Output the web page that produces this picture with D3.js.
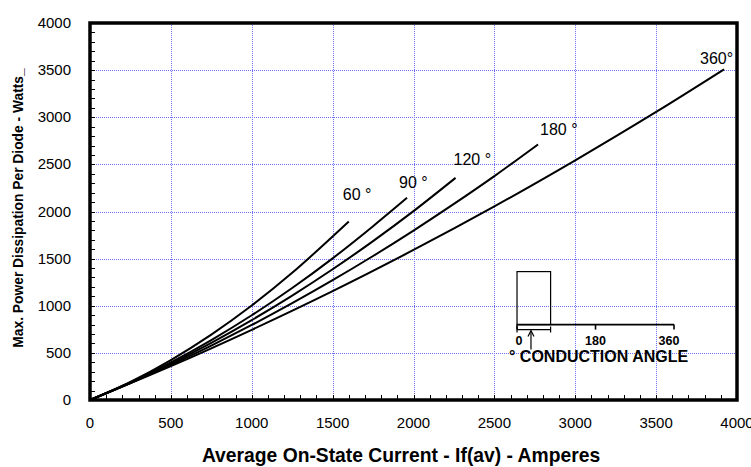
<!DOCTYPE html>
<html><head><meta charset="utf-8">
<script src="https://cdn.jsdelivr.net/npm/d3@7"></script>
<style>body{margin:0;background:#fff}svg{display:block}</style>
</head><body><svg id="c" width="751" height="467"></svg>
<script>
// ---------- data ----------
const xTickValues = [0, 500, 1000, 1500, 2000, 2500, 3000, 3500, 4000];
const yTickValues = [0, 500, 1000, 1500, 2000, 2500, 3000, 3500, 4000];
const curveNames = ["60 °", "90 °", "120 °", "180 °", "360°"];

const current60  = [0, 250, 500, 750, 1000, 1250, 1500, 1600];
const power60    = [0, 192, 424, 694, 1002, 1349, 1735, 1895];
const current90  = [0, 250, 500, 750, 1000, 1250, 1500, 1750, 1960];
const power90    = [0, 186, 398, 636, 899, 1188, 1503, 1844, 2145];
const current120 = [0, 250, 500, 750, 1000, 1250, 1500, 1750, 2000, 2260];
const power120   = [0, 183, 385, 607, 848, 1108, 1387, 1686, 2004, 2357];
const current180 = [0, 250, 500, 750, 1000, 1250, 1500, 1750, 2000, 2250, 2500, 2770];
const power180   = [0, 180, 372, 578, 796, 1027, 1271, 1528, 1798, 2081, 2376, 2712];
const current360 = [0, 500, 1000, 1500, 2000, 2500, 3000, 3500, 3920];
const power360   = [0, 359, 745, 1155, 1592, 2054, 2543, 3056, 3508];

const insetTickLabels = ["0", "180", "360"];
const insetTitle = "CONDUCTION ANGLE";
const xTitle = "Average On-State Current - If(av) - Amperes";
const yTitle = "Max. Power Dissipation Per Diode - Watts_";

// ---------- layout ----------
const svg = d3.select("#c");
const L = 90, T = 23, R = 737, B = 400;
const x = d3.scaleLinear().domain([0, 4000]).range([L, R]);
const y = d3.scaleLinear().domain([0, 4000]).range([B, T]);

const series = [
  {name: curveNames[0], I: current60,  P: power60,  dx: -6,  dy: -21},
  {name: curveNames[1], I: current90,  P: power90,  dx: -8,  dy: -10},
  {name: curveNames[2], I: current120, P: power120, dx: -2,  dy: -13},
  {name: curveNames[3], I: current180, P: power180, dx: 2,   dy: -9},
  {name: curveNames[4], I: current360, P: power360, dx: -24, dy: -5}
];

const font = "'Liberation Sans', Arial, Helvetica, sans-serif";

// grid
const grid = svg.append("g").attr("stroke", "#7070ff").attr("stroke-width", 1)
  .attr("stroke-dasharray", "1,1").attr("shape-rendering", "crispEdges");
grid.selectAll(".gx").data(xTickValues.slice(1, -1)).join("line")
  .attr("x1", d => Math.round(x(d)) + 0.5).attr("x2", d => Math.round(x(d)) + 0.5)
  .attr("y1", T).attr("y2", B);
grid.selectAll(".gy").data(yTickValues.slice(1, -1)).join("line")
  .attr("y1", d => Math.round(y(d)) + 0.5).attr("y2", d => Math.round(y(d)) + 0.5)
  .attr("x1", L).attr("x2", R);

// minor ticks (inside)
const minor = d3.range(0, 4001, 100);
const tk = svg.append("g").attr("stroke", "#000").attr("stroke-width", 1).attr("shape-rendering", "crispEdges");
tk.selectAll(".tx").data(minor).join("line")
  .attr("x1", d => Math.round(x(d)) + 0.5).attr("x2", d => Math.round(x(d)) + 0.5)
  .attr("y1", B).attr("y2", B - 5);
tk.selectAll(".ty").data(minor).join("line")
  .attr("y1", d => Math.round(y(d)) + 0.5).attr("y2", d => Math.round(y(d)) + 0.5)
  .attr("x1", L).attr("x2", L + 5);

// curves
const line = d3.line().x(d => x(d[0])).y(d => y(d[1])).curve(d3.curveMonotoneX);
svg.append("g").selectAll("path").data(series).join("path")
  .attr("d", s => line(s.I.map((v, i) => [v, s.P[i]])))
  .attr("fill", "none").attr("stroke", "#000").attr("stroke-width", 2);

// curve labels
svg.append("g").selectAll("text").data(series).join("text")
  .attr("x", s => x(s.I[s.I.length - 1]) + s.dx)
  .attr("y", s => y(s.P[s.P.length - 1]) + s.dy)
  .attr("font-family", font).attr("font-size", 16).attr("fill", "#000")
  .text(s => s.name);

// frame
svg.append("rect").attr("x", L).attr("y", T).attr("width", R - L).attr("height", B - T)
  .attr("fill", "none").attr("stroke", "#000").attr("stroke-width", 3.5);

// tick labels
svg.append("g").selectAll("text").data(xTickValues).join("text")
  .attr("x", d => x(d)).attr("y", 428).attr("text-anchor", "middle")
  .attr("font-family", font).attr("font-size", 15).text(d => d);
svg.append("g").selectAll("text").data(yTickValues).join("text")
  .attr("x", 71).attr("y", d => y(d) + 5).attr("text-anchor", "end")
  .attr("font-family", font).attr("font-size", 15).text(d => d);

// axis titles
svg.append("text").attr("x", 401).attr("y", 462).attr("text-anchor", "middle")
  .attr("font-family", font).attr("font-weight", "bold").attr("font-size", 19.3).text(xTitle);
svg.append("text").attr("transform", "translate(23,208) rotate(-90)").attr("text-anchor", "middle")
  .attr("font-family", font).attr("font-weight", "bold").attr("font-size", 13.8).text(yTitle);

// inset (conduction angle diagram), anchored via the scales
const ix = x(2640), iy = y(800);
const ang = d3.scaleLinear().domain([0, 360]).range([ix, ix + 157]);
const inset = svg.append("g").attr("stroke", "#000").attr("fill", "none").attr("stroke-width", 1.2);
inset.append("rect").attr("x", ang(0)).attr("y", iy - 53).attr("width", ang(77) - ang(0)).attr("height", 53);
inset.append("line").attr("x1", ang(0)).attr("x2", ang(360)).attr("y1", iy).attr("y2", iy).attr("stroke-width", 1.6);
[0, 180, 360].forEach(a => inset.append("line").attr("x1", ang(a)).attr("x2", ang(a)).attr("y1", iy).attr("y2", iy + 5).attr("stroke-width", 1.6));
inset.append("line").attr("x1", ang(0)).attr("x2", ang(77)).attr("y1", iy + 5).attr("y2", iy + 5);
inset.append("line").attr("x1", ang(77)).attr("x2", ang(77)).attr("y1", iy + 2).attr("y2", iy + 8);
inset.append("line").attr("x1", ang(0)).attr("x2", ang(0)).attr("y1", iy + 2).attr("y2", iy + 8);
inset.append("line").attr("x1", ang(32)).attr("x2", ang(32)).attr("y1", iy + 25).attr("y2", iy + 7);
inset.append("path").attr("d", `M${ang(32) - 3},${iy + 12} L${ang(32)},${iy + 6} L${ang(32) + 3},${iy + 12}`);
svg.append("g").selectAll("text").data([0, 180, 360]).join("text")
  .attr("x", (d, i) => ang(d) + [2, 0, -5][i]).attr("y", iy + 20).attr("text-anchor", "middle")
  .attr("font-family", font).attr("font-weight", "bold").attr("font-size", 12.5)
  .text((d, i) => insetTickLabels[i]);
svg.append("text").attr("x", ix - 8).attr("y", iy + 37)
  .attr("font-family", font).attr("font-weight", "bold").attr("font-size", 16)
  .text("° " + insetTitle);
</script></body></html>
